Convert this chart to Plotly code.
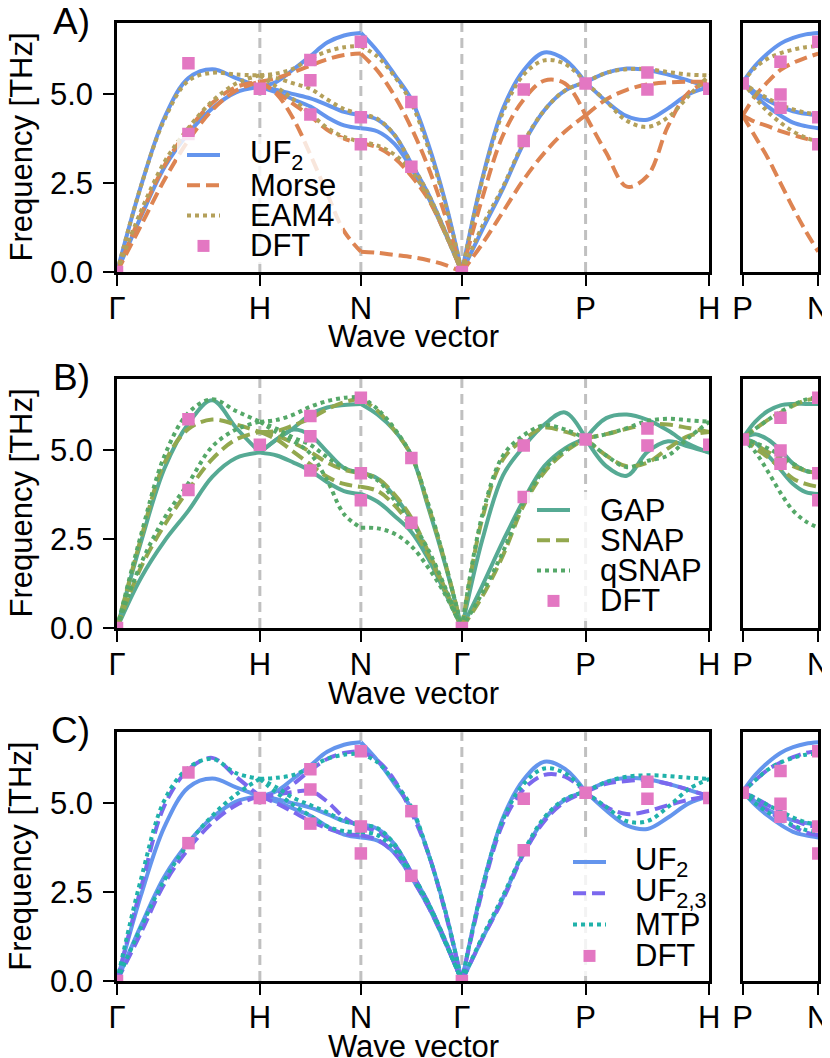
import plotly.graph_objects as go

W, H = 830, 1058

# Brillouin-zone path of bcc U (lengths in units of 2*pi/a)
path_labels = ['Γ', 'H', 'N', 'Γ', 'P', 'H']
path_lengths = [1.0, 0.70711, 0.70711, 0.86603, 0.86603]
side_labels = ['P', 'N']
side_length = 0.5
frac = [0, 1/6, 1/3, 1/2, 2/3, 5/6, 1]   # where each branch was read along a segment
freq_ticks = [0, 2.5, 5.0]
freq_max = 7.0

# DFT frequencies (THz) at path points and segment midpoints
dft_gamma = [0.0]
dft_gh = [5.87, 3.88]
dft_h = [5.15]
dft_hn = [5.96, 5.39, 4.43]
dft_n = [6.47, 4.35, 3.59]
dft_ng = [4.78, 2.96]
dft_gp = [5.13, 3.68]
dft_p = [5.30]
dft_ph = [5.61, 5.13]
dft_pn = [5.91, 4.99, 4.62]

# UF2
uf2_gh = [[0, 2.4, 4.35, 5.45, 5.7, 5.45, 5.2], [0, 1.55, 2.95, 3.9, 4.6, 5.05, 5.2]]
uf2_hn = [[5.2, 5.35, 5.7, 6.07, 6.45, 6.65, 6.72], [5.2, 5.12, 5.0, 4.88, 4.7, 4.5, 4.41],
          [5.2, 5.05, 4.85, 4.65, 4.35, 4.12, 4.04]]
uf2_ng = [[6.72, 6.2, 5.55, 4.85, 3.6, 2.0, 0], [4.41, 4.28, 3.85, 3.05, 2.2, 1.15, 0],
          [4.04, 3.95, 3.6, 2.92, 2.1, 1.1, 0]]
uf2_gp = [[0, 2.65, 4.6, 5.67, 6.17, 5.97, 5.33], [0, 1.2, 2.35, 3.62, 4.55, 5.1, 5.33]]
uf2_ph = [[5.33, 5.6, 5.72, 5.68, 5.55, 5.38, 5.2], [5.33, 4.8, 4.38, 4.28, 4.6, 5.0, 5.2]]
uf2_pn = [[5.33, 5.8, 6.15, 6.42, 6.58, 6.68, 6.72], [5.33, 5.05, 4.82, 4.65, 4.52, 4.45, 4.41],
          [5.33, 4.95, 4.65, 4.4, 4.2, 4.1, 4.04]]

# Morse
morse_gh = [[0, 1.6, 3.0, 4.0, 4.75, 5.2, 5.35], [0, 1.3, 2.6, 3.7, 4.55, 5.1, 5.35]]
morse_hn = [[5.35, 5.45, 5.62, 5.8, 5.98, 6.1, 6.14], [5.35, 5.05, 4.72, 4.38, 4.0, 3.75, 3.62],
            [5.35, 5.0, 4.3, 3.3, 2.2, 1.15, 0.57]]
morse_ng = [[6.14, 5.65, 4.95, 4.05, 2.95, 1.6, 0], [3.62, 3.5, 3.2, 2.7, 2.05, 1.1, 0],
            [0.57, 0.54, 0.48, 0.42, 0.33, 0.2, 0]]
morse_gp = [[0, 2.1, 3.85, 4.85, 5.38, 5.3, 4.4], [0, 0.8, 1.7, 2.6, 3.35, 3.95, 4.4]]
morse_ph = [[4.4, 4.85, 5.12, 5.27, 5.33, 5.35, 5.35], [4.4, 3.35, 2.4, 2.7, 4.1, 5.05, 5.35]]
morse_pn = [[4.4, 4.95, 5.35, 5.68, 5.88, 6.02, 6.14], [4.4, 4.22, 4.1, 3.96, 3.85, 3.75, 3.62],
            [4.4, 3.8, 3.2, 2.5, 1.8, 1.15, 0.57]]

# EAM4
eam4_gh = [[0, 2.4, 4.3, 5.38, 5.6, 5.55, 5.53], [0, 1.7, 3.1, 4.05, 4.8, 5.3, 5.53]]
eam4_hn = [[5.53, 5.58, 5.72, 6.0, 6.2, 6.32, 6.35], [5.53, 5.45, 5.3, 5.15, 4.85, 4.58, 4.44],
           [5.53, 5.2, 4.85, 4.45, 4.05, 3.8, 3.66]]
eam4_ng = [[6.35, 6.05, 5.5, 4.75, 3.5, 1.95, 0], [4.44, 4.3, 3.85, 3.05, 2.2, 1.15, 0],
           [3.66, 3.55, 3.3, 2.85, 2.1, 1.1, 0]]
eam4_gp = [[0, 2.6, 4.5, 5.55, 5.95, 5.85, 5.33], [0, 1.3, 2.4, 3.65, 4.55, 5.1, 5.33]]
eam4_ph = [[5.33, 5.6, 5.7, 5.7, 5.62, 5.55, 5.53], [5.33, 4.8, 4.25, 4.08, 4.35, 4.95, 5.53]]
eam4_pn = [[5.33, 5.75, 6.0, 6.15, 6.25, 6.32, 6.35], [5.33, 5.08, 4.88, 4.7, 4.57, 4.48, 4.44],
           [5.33, 4.9, 4.5, 4.2, 3.95, 3.78, 3.66]]

# GAP
gap_gh = [[0, 2.4, 4.5, 5.75, 6.4, 5.63, 4.93], [0, 1.4, 2.45, 3.3, 4.25, 4.78, 4.93]]
gap_hn = [[4.93, 5.3, 5.62, 6.0, 6.2, 6.27, 6.3], [4.93, 5.3, 5.58, 5.42, 4.95, 4.5, 4.37],
          [4.93, 4.85, 4.65, 4.42, 4.1, 3.85, 3.77]]
gap_ng = [[6.3, 6.0, 5.55, 4.85, 3.4, 1.8, 0], [4.37, 4.2, 3.7, 3.05, 2.1, 1.1, 0],
          [3.77, 3.55, 3.15, 2.7, 1.95, 1.0, 0]]
gap_gp = [[0, 2.5, 4.3, 5.1, 5.72, 6.06, 5.33], [0, 1.2, 2.45, 3.6, 4.55, 5.05, 5.33]]
gap_ph = [[5.33, 5.9, 6.0, 5.85, 5.55, 5.17, 4.93], [5.33, 4.55, 4.28, 4.95, 5.25, 5.1, 4.93]]
gap_pn = [[5.33, 5.8, 6.1, 6.26, 6.3, 6.3, 6.3], [5.33, 5.45, 5.3, 5.0, 4.62, 4.42, 4.37],
          [5.33, 5.2, 4.85, 4.45, 4.05, 3.82, 3.77]]

# SNAP
snap_gh = [[0, 2.5, 4.65, 5.6, 5.86, 5.72, 5.51], [0, 1.7, 2.9, 3.88, 4.75, 5.3, 5.51]]
snap_hn = [[5.51, 5.54, 5.7, 5.89, 6.15, 6.35, 6.45], [5.51, 5.4, 5.2, 4.95, 4.65, 4.45, 4.35],
           [5.51, 5.3, 4.95, 4.6, 4.25, 4.05, 3.97]]
snap_ng = [[6.45, 6.1, 5.55, 4.85, 3.45, 1.85, 0], [4.35, 4.2, 3.75, 3.1, 2.15, 1.1, 0],
           [3.97, 3.85, 3.45, 2.85, 2.05, 1.05, 0]]
snap_gp = [[0, 3.1, 4.75, 5.3, 5.63, 5.52, 5.33], [0, 0.9, 2.05, 3.45, 4.38, 4.95, 5.33]]
snap_ph = [[5.33, 5.45, 5.6, 5.72, 5.72, 5.62, 5.51], [5.33, 4.85, 4.55, 4.65, 5.05, 5.4, 5.51]]
snap_pn = [[5.33, 5.6, 5.85, 6.05, 6.25, 6.4, 6.45], [5.33, 5.15, 4.95, 4.75, 4.55, 4.42, 4.35],
           [5.33, 5.05, 4.8, 4.5, 4.2, 4.05, 3.97]]

# qSNAP
qsnap_gh = [[0, 2.6, 4.85, 6.05, 6.43, 6.1, 5.8], [0, 1.8, 3.1, 4.07, 5.1, 5.58, 5.8]]
qsnap_hn = [[5.8, 5.85, 6.0, 6.22, 6.38, 6.47, 6.5], [5.8, 5.6, 5.35, 5.15, 4.8, 4.5, 4.35],
            [5.8, 5.5, 5.25, 4.9, 4.15, 3.2, 2.82]]
qsnap_ng = [[6.5, 6.15, 5.6, 4.85, 3.5, 1.85, 0], [4.35, 4.15, 3.6, 3.0, 2.2, 1.15, 0],
            [2.82, 2.8, 2.65, 2.3, 1.7, 0.95, 0]]
qsnap_gp = [[0, 3.2, 4.85, 5.42, 5.7, 5.58, 5.33], [0, 1.0, 2.15, 3.55, 4.45, 5.0, 5.33]]
qsnap_ph = [[5.33, 5.45, 5.62, 5.82, 5.88, 5.84, 5.8], [5.33, 4.85, 4.52, 4.7, 4.85, 5.35, 5.8]]
qsnap_pn = [[5.33, 5.6, 5.85, 6.08, 6.27, 6.42, 6.5], [5.33, 5.2, 5.05, 4.85, 4.62, 4.42, 4.35],
            [5.33, 4.95, 4.4, 3.8, 3.3, 3.0, 2.82]]

# UF2,3
uf23_gh = [[0, 2.6, 4.95, 5.95, 6.28, 5.75, 5.2], [0, 1.35, 2.75, 3.72, 4.45, 4.95, 5.2]]
uf23_hn = [[5.2, 5.25, 5.55, 5.93, 6.25, 6.42, 6.47], [5.2, 5.25, 5.32, 5.35, 5.05, 4.6, 4.33],
           [5.2, 5.0, 4.75, 4.5, 4.3, 4.15, 4.1]]
uf23_ng = [[6.47, 6.2, 5.65, 4.75, 3.6, 1.95, 0], [4.33, 4.2, 3.8, 3.05, 2.2, 1.15, 0],
           [4.1, 3.97, 3.6, 2.92, 2.1, 1.1, 0]]
uf23_gp = [[0, 2.55, 4.45, 5.4, 5.8, 5.75, 5.32], [0, 1.2, 2.3, 3.58, 4.5, 5.05, 5.32]]
uf23_ph = [[5.32, 5.55, 5.63, 5.65, 5.55, 5.38, 5.2], [5.32, 4.9, 4.7, 4.78, 4.95, 5.1, 5.2]]
uf23_pn = [[5.32, 5.65, 5.95, 6.15, 6.3, 6.42, 6.47], [5.32, 5.15, 4.95, 4.75, 4.55, 4.4, 4.33],
           [5.32, 5.05, 4.8, 4.55, 4.35, 4.18, 4.1]]

# MTP
mtp_gh = [[0, 2.85, 5.1, 6.0, 6.25, 5.85, 5.69], [0, 1.5, 2.85, 3.87, 4.65, 5.25, 5.69]]
mtp_hn = [[5.69, 5.72, 5.8, 6.02, 6.25, 6.37, 6.4], [5.69, 5.45, 5.15, 4.95, 4.75, 4.5, 4.4],
          [5.69, 5.3, 4.95, 4.65, 4.35, 4.22, 4.2]]
mtp_ng = [[6.4, 6.15, 5.6, 4.9, 3.6, 2.0, 0], [4.4, 4.3, 3.85, 3.05, 2.2, 1.15, 0],
          [4.2, 4.1, 3.7, 2.95, 2.15, 1.1, 0]]
mtp_gp = [[0, 2.65, 4.55, 5.55, 5.98, 5.85, 5.32], [0, 1.25, 2.4, 3.65, 4.6, 5.12, 5.32]]
mtp_ph = [[5.32, 5.6, 5.75, 5.79, 5.77, 5.72, 5.69], [5.32, 4.9, 4.5, 4.5, 4.9, 5.4, 5.69]]
mtp_pn = [[5.32, 5.65, 5.95, 6.15, 6.28, 6.37, 6.4], [5.32, 5.15, 4.95, 4.78, 4.6, 4.47, 4.4],
          [5.32, 5.0, 4.75, 4.55, 4.38, 4.25, 4.2]]

FONT = 'Liberation Sans, Arial, sans-serif'
DASH = '13px,6px'
DOT = '4px,4px'
LW = 4
DFT_COLOR = '#E377C2'
PAGE_OFFSET = 8   # the page body margin puts the figure 8 px in from the window corner

starts = [0.0]
for L in path_lengths:
    starts.append(starts[-1] + L)


def band_xy(pieces):
    xs, ys = [], []
    for start, length, branches in pieces:
        for br in branches:
            xs += [start + f * length for f in frac] + [None]
            ys += list(br) + [None]
    return xs, ys


def main_pieces(gh, hn, ng, gp, ph):
    segs = [gh, hn, ng, gp, ph]
    return [(starts[i], path_lengths[i], segs[i]) for i in range(5)]


dft_main = [(starts[0], dft_gamma), (starts[0] + path_lengths[0] / 2, dft_gh), (starts[1], dft_h),
            (starts[1] + path_lengths[1] / 2, dft_hn), (starts[2], dft_n),
            (starts[2] + path_lengths[2] / 2, dft_ng), (starts[3], dft_gamma),
            (starts[3] + path_lengths[3] / 2, dft_gp), (starts[4], dft_p),
            (starts[4] + path_lengths[4] / 2, dft_ph), (starts[5], dft_h)]
dft_side = [(0, dft_p), (side_length / 2, dft_pn), (side_length, dft_n)]


def flat(points):
    xs, ys = [], []
    for x, vals in points:
        for v in vals:
            xs.append(x)
            ys.append(v)
    return xs, ys


panels = [
    dict(tag='A)', models=[
        ('UF<sub>2</sub>', '#6495ED', 'solid', (uf2_gh, uf2_hn, uf2_ng, uf2_gp, uf2_ph), uf2_pn),
        ('Morse', '#DD8452', DASH, (morse_gh, morse_hn, morse_ng, morse_gp, morse_ph), morse_pn),
        ('EAM4', '#B4A05A', DOT, (eam4_gh, eam4_hn, eam4_ng, eam4_gp, eam4_ph), eam4_pn)],
        leg=dict(x0=187, x1=220, tx=248, y=155, dy=30.3, box=(177, 137, 343, 264))),
    dict(tag='B)', models=[
        ('GAP', '#56AA94', 'solid', (gap_gh, gap_hn, gap_ng, gap_gp, gap_ph), gap_pn),
        ('SNAP', '#93A84E', DASH, (snap_gh, snap_hn, snap_ng, snap_gp, snap_ph), snap_pn),
        ('qSNAP', '#55A868', DOT, (qsnap_gh, qsnap_hn, qsnap_ng, qsnap_gp, qsnap_ph), qsnap_pn)],
        leg=dict(x0=537, x1=570, tx=598, y=510, dy=30.3, box=(527, 492, 708, 621))),
    dict(tag='C)', models=[
        ('UF<sub>2</sub>', '#6495ED', 'solid', (uf2_gh, uf2_hn, uf2_ng, uf2_gp, uf2_ph), uf2_pn),
        ('UF<sub>2,3</sub>', '#7B68EE', DASH, (uf23_gh, uf23_hn, uf23_ng, uf23_gp, uf23_ph), uf23_pn),
        ('MTP', '#20B2AA', DOT, (mtp_gh, mtp_hn, mtp_ng, mtp_gp, mtp_ph), mtp_pn)],
        leg=dict(x0=573, x1=606, tx=633, y=862, dy=31.3, box=(563, 843, 708, 976))),
]

rows = [(23, 272), (379, 628), (732.3, 981)]
main_px = (117, 709.3)
side_px = (742.7, 818.3)


def fx(p):
    return (p - PAGE_OFFSET) / W


def fy(p):
    return 1 - (p - PAGE_OFFSET) / H


fig = go.Figure()
layout = dict(width=W, height=H, margin=dict(l=0, r=0, t=0, b=0),
              paper_bgcolor='white', plot_bgcolor='white', showlegend=False,
              font=dict(family=FONT, size=31, color='black'))
shapes, annotations = [], []

axis_style = dict(showline=True, linecolor='black', linewidth=2.5, mirror=True,
                  ticks='outside', ticklen=11, tickwidth=2, tickcolor='black', automargin=False,
                  showgrid=False, zeroline=False, tickfont=dict(family=FONT, size=31, color='black'))

for r, panel in enumerate(panels):
    top, bot = rows[r]
    mi, si = 2 * r + 1, 2 * r + 2
    mx, my = ('x' if mi == 1 else f'x{mi}'), ('y' if mi == 1 else f'y{mi}')
    sx, sy = f'x{si}', f'y{si}'
    ydom = [fy(bot), fy(top)]

    layout['xaxis' if mi == 1 else f'xaxis{mi}'] = dict(
        axis_style, domain=[fx(main_px[0]), fx(main_px[1])], anchor=my,
        range=[0, starts[-1]], tickvals=starts, ticktext=path_labels, ticklabelstandoff=-4)
    layout['yaxis' if mi == 1 else f'yaxis{mi}'] = dict(
        axis_style, domain=ydom, anchor=mx, range=[0, freq_max],
        tickvals=freq_ticks, ticktext=[f'{v:.1f}' for v in freq_ticks], ticklabelstandoff=4)
    layout[f'xaxis{si}'] = dict(
        axis_style, domain=[fx(side_px[0]), fx(side_px[1])], anchor=sy,
        range=[0, side_length], tickvals=[0, side_length], ticktext=side_labels, ticklabelstandoff=-4)
    layout[f'yaxis{si}'] = dict(
        axis_style, domain=ydom, anchor=sx, range=[0, freq_max], ticks='', showticklabels=False)

    # dashed guides at the interior high-symmetry points
    for k in starts[1:-1]:
        shapes.append(dict(type='line', xref=mx, yref=f'{my} domain', x0=k, x1=k, y0=0, y1=1,
                           line=dict(color='#C0C0C0', width=3, dash='10px,6px'), layer='below'))

    for name, color, dash, segs, pn in panel['models']:
        xs, ys = band_xy(main_pieces(*segs))
        fig.add_trace(go.Scatter(x=xs, y=ys, xaxis=mx, yaxis=my, mode='lines',
                                 line=dict(color=color, width=LW, dash=dash, shape='spline'),
                                 hoverinfo='skip'))
        xs, ys = band_xy([(0, side_length, pn)])
        fig.add_trace(go.Scatter(x=xs, y=ys, xaxis=sx, yaxis=sy, mode='lines',
                                 line=dict(color=color, width=LW, dash=dash, shape='spline'),
                                 hoverinfo='skip'))

    for pts, ax, ay in [(dft_main, mx, my), (dft_side, sx, sy)]:
        xs, ys = flat(pts)
        fig.add_trace(go.Scatter(x=xs, y=ys, xaxis=ax, yaxis=ay, mode='markers',
                                 marker=dict(symbol='square', size=12.5, color=DFT_COLOR)))

    # legend drawn by hand (tight spacing, translucent frame)
    lg = panel['leg']
    bx0, by0, bx1, by1 = lg['box']
    shapes.append(dict(type='rect', xref='paper', yref='paper', x0=fx(bx0), x1=fx(bx1),
                       y0=fy(by1), y1=fy(by0), fillcolor='rgba(255,255,255,0.8)',
                       line=dict(width=0), layer='above'))
    names = [m[0] for m in panel['models']] + ['DFT']
    for i, name in enumerate(names):
        yc = lg['y'] + i * lg['dy']
        if i < 3:
            _, color, dash, _, _ = panel['models'][i]
            shapes.append(dict(type='line', xref='paper', yref='paper', x0=fx(lg['x0']), x1=fx(lg['x1']),
                               y0=fy(yc), y1=fy(yc), line=dict(color=color, width=LW, dash=dash),
                               layer='above'))
        else:
            xc = (lg['x0'] + lg['x1']) / 2
            shapes.append(dict(type='rect', xref='paper', yref='paper', x0=fx(xc - 6), x1=fx(xc + 6),
                               y0=fy(yc + 6), y1=fy(yc - 6), fillcolor=DFT_COLOR,
                               line=dict(width=0), layer='above'))
        annotations.append(dict(text=name, xref='paper', yref='paper', x=fx(lg['tx']), y=fy(yc),
                                xanchor='left', yanchor='middle', showarrow=False,
                                font=dict(family=FONT, size=31, color='black')))

    annotations.append(dict(text='Frequency [THz]', xref='paper', yref='paper', x=fx(21),
                            y=fy((top + bot) / 2), textangle=-90, showarrow=False,
                            xanchor='center', yanchor='middle', font=dict(family=FONT, size=31)))
    annotations.append(dict(text='Wave vector', xref='paper', yref='paper', x=fx(413),
                            y=fy(bot + 65), showarrow=False, xanchor='center', yanchor='middle',
                            font=dict(family=FONT, size=31)))
    annotations.append(dict(text=panel['tag'], xref='paper', yref='paper', x=fx(92),
                            y=fy(top - 2), showarrow=False, xanchor='right', yanchor='middle',
                            font=dict(family=FONT, size=37)))

layout['shapes'] = shapes
layout['annotations'] = annotations
fig.update_layout(**layout)
fig.write_html('out.html')
